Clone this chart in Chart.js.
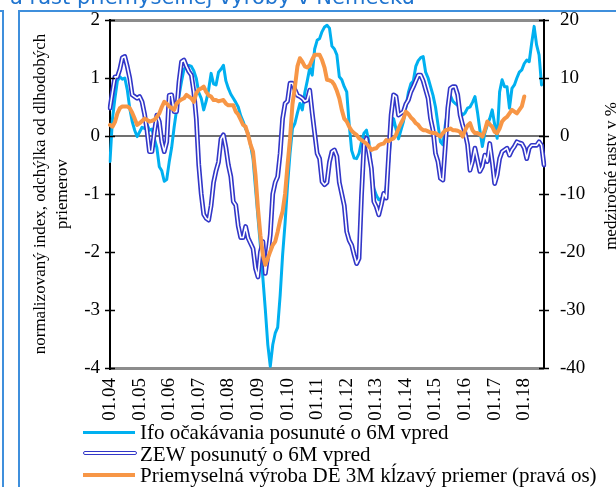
<!DOCTYPE html>
<html>
<head>
<meta charset="utf-8">
<script src="https://cdn.jsdelivr.net/npm/chart.js@4/dist/chart.umd.min.js"></script>
<style>
  html, body { margin: 0; padding: 0; background: #fff; }
  #wrap { position: relative; width: 616px; height: 487px; overflow: hidden; background: #fff; }
  #chart { position: absolute; left: 0; top: 0; }
  .ttl { position: absolute; left: 10px; top: -13px; font-family: "DejaVu Sans"; font-size: 21px; line-height: 21px; color: #1f74cf; white-space: nowrap; }
  .frame { position: absolute; background: #3f8fdc; }
  .leg { position: absolute; left: 83px; height: 22px; font-family: "Liberation Serif"; font-size: 21px; line-height: 22px; white-space: nowrap; color: #000; }
  .leg span { position: absolute; left: 57px; top: 0; }
  .mk { position: absolute; left: 0; width: 52px; }
</style>
</head>
<body>
<div id="wrap">
  <canvas id="chart" width="616" height="487"></canvas>
  <div class="ttl">a rast priemyselnej výroby v Nemecku</div>
  <div class="frame" style="left:2px; top:10px; width:2px; height:477px;"></div>
  <div class="frame" style="left:0; top:10px; width:3px; height:2px;"></div>
  <div class="frame" style="left:18px; top:10px; width:2px; height:477px;"></div>
  <div class="frame" style="left:18px; top:10px; width:598px; height:2px;"></div>
  <div class="leg" style="top:421px;"><div class="mk" style="top:10px; height:3px; background:#00b0f0;"></div><span>Ifo očakávania posunuté o 6M vpred</span></div>
  <div class="leg" style="top:443px;"><div class="mk" style="top:8px; height:2px; border:1.3px solid #3236c8; border-radius:2px; background:#fff;"></div><span>ZEW posunutý o 6M vpred</span></div>
  <div class="leg" style="top:464px;"><div class="mk" style="top:9px; height:4px; background:#f79646;"></div><span>Priemyselná výroba DE 3M kĺzavý priemer (pravá os)</span></div>
</div>
<script>
// mesiace 01.04 .. 09.18
const firstYear = 2004;
const monthCount = 177;

// Ifo ocakavania posunute o 6M (lava os)
const ifo = [
  -0.44, 0.3, 0.65, 0.95, 1.02, 0.98, 1.0, 0.8, 0.48, 0.25, 0.1, -0.01,
  0.07, 0.15, 0.13, 0.2, 0.1, 0.12, -0.05, -0.2, -0.53, -0.6, -0.78, -0.75,
  -0.45, -0.2, 0.15, 0.45, 0.7, 0.94, 1.15, 1.2, 1.22, 1.2, 1.12, 0.99,
  0.75, 0.65, 0.45, 0.6, 0.8, 1.08, 0.9, 0.88, 1.1, 1.15, 1.22, 0.95,
  0.82, 0.72, 0.65, 0.58, 0.5, 0.35, 0.25, 0.12, 0.05, -0.16, -0.39, -0.9,
  -1.4, -1.9, -2.45, -3.0, -3.6, -3.97, -3.6, -3.4, -3.3, -2.75, -2.05, -1.5,
  -0.85, -0.3, 0.13, 0.22, 0.4, 0.56, 0.45, 0.75, 0.95, 1.17, 1.05, 1.5,
  1.65, 1.68, 1.8, 1.88, 1.91, 1.86, 1.55, 1.5, 1.4, 1.02, 0.97, 0.85,
  0.76, 0.2, -0.25, -0.38, -0.39, -0.3, -0.1, 0.05, 0.1, -0.1, -0.6, -0.9,
  -1.02, -1.1, -1.08, -1.05, -0.9, -0.45, 0.1, 0.3, 0.12, -0.05, 0.1, 0.25,
  0.5, 0.75, 0.9, 0.95, 1.2, 1.3, 1.35, 1.37, 1.1, 1.0, 0.85, 0.7,
  0.5, 0.2, -0.1, -0.15, 0.2, 0.45, 0.7, 0.6, 0.56, 0.53, 0.42, 0.36,
  0.4, 0.48, 0.5, 0.58, 0.68, 0.42, 0.1, -0.18, 0.05, 0.19, 0.3, 0.45,
  0.2, -0.04, 0.76, 0.97, 0.85, 0.85, 0.48, 0.82, 0.88, 1.0, 1.1, 1.14,
  1.25, 1.31, 1.28, 1.6, 1.89, 1.57, 1.4, 0.88
];

// ZEW posunuty o 6M (lava os)
const zew = [
  0.48, 0.76, 1.02, 1.02, 1.15, 1.35, 1.37, 1.2, 1.0, 0.71, 0.68, 0.65,
  0.68, 0.59, 0.38, 0.1, -0.27, -0.27, 0.07, 0.36, 0.25, -0.1, -0.27, -0.1,
  0.7, 0.71, 0.42, 0.42, 0.94, 1.28, 1.31, 1.2, 1.11, 1.05, 0.76, 0.3,
  -0.5, -1.0, -1.35, -1.42, -1.45, -1.2, -0.8, -0.6, -0.45, -0.05, 0.02, -0.2,
  -0.5, -0.7, -1.13, -1.19, -1.55, -1.75, -1.75, -1.56, -1.76, -1.85, -1.94, -2.28,
  -2.43, -2.0, -1.82, -2.37, -2.05, -1.7, -1.0, -0.8, -0.7, -0.3, 0.3, 0.56,
  0.6, 0.91, 0.91, 0.8, 0.7, 0.68, 0.65, 0.6, 0.62, 0.79, 0.4, 0.05,
  -0.3, -0.39, -0.79, -0.84, -0.8, -0.45, -0.27, -0.24, -0.35, -0.8, -1.0, -1.2,
  -1.65, -1.8, -1.88, -2.05, -2.2, -2.11, -1.02, -0.15, -0.04, -0.3, -0.56, -1.13,
  -1.22, -1.36, -1.19, -0.99, -1.07, -0.33, 0.36, 0.71, 0.68, 0.36, 0.39, 0.42,
  0.55, 0.62, 0.76, 0.85, 0.95, 1.05, 1.05, 0.95, 0.8, 0.65, 0.3, 0.1,
  -0.3, -0.44, -0.73, -0.76, -0.16, 0.48, 0.82, 0.85, 0.85, 0.71, 0.36, 0.19,
  0.05, -0.15, -0.59, -0.44, -0.21, -0.41, -0.61, -0.53, -0.33, -0.44, -0.13, -0.44,
  -0.82, -0.67, -0.39, -0.27, -0.24, -0.21, -0.33, -0.24, -0.18, -0.1, -0.12, -0.13,
  -0.21, -0.39, -0.21, -0.16, -0.16, -0.16, -0.1, -0.16, -0.5
];

// Priemyselna vyroba DE, 3M klzavy priemer, medzirocne v % (prava os)
const vyroba = [
  1.9, 1.6, 2.4, 3.9, 4.8, 5.1, 5.1, 5.1, 4.8, 4.0, 3.0, 1.9,
  2.2, 2.6, 3.0, 2.8, 2.5, 2.6, 2.8, 3.3, 3.9, 5.0, 5.9, 5.6,
  5.1, 4.8, 4.5, 5.6, 6.0, 6.3, 6.5, 7.1, 6.8, 6.5, 5.9, 7.4,
  8.0, 8.2, 8.5, 7.6, 7.0, 6.8, 6.2, 6.2, 6.0, 6.1, 6.2, 5.6,
  5.3, 5.3, 5.3, 4.2, 3.7, 2.8, 1.9, 1.6, 0.2, -1.5, -2.7, -6.7,
  -12.5, -17.1, -20.5, -22.2, -21.1, -19.9, -18.8, -18.2, -16.5, -14.5, -13.0, -10.0,
  -5.0, -0.5, 5.5, 8.5, 12.0, 13.4, 12.8, 12.0, 11.8, 12.2, 13.2, 14.0,
  14.0, 14.0, 13.1, 11.8, 9.7, 9.6, 9.4, 8.8, 7.8, 6.5, 4.5, 3.0,
  2.5, 1.6, 0.9, 0.5, 0.2, -0.4, -0.7, -1.0, -1.3, -1.8, -2.4, -2.2,
  -2.1, -1.6, -1.4, -1.3, -0.7, -0.9, -0.6, -0.4, 0.2, 1.3, 2.2, 3.0,
  4.2, 3.8, 3.2, 2.8, 2.2, 1.9, 1.3, 1.0, 1.0, 0.8, 0.6, 0.5,
  0.5, 0.2, -0.1, 0.5, 1.0, 1.1, 1.3, 1.0, 1.0, 0.9, 0.7, -0.1,
  1.0, 1.8, 2.2, 1.0, 0.5, 0.5, 0.3, -0.1, 1.0, 2.5, 2.0, 1.6,
  0.7, 0.5, 1.3, 2.5, 3.0, 3.3, 3.9, 4.5, 4.2, 3.9, 4.5, 5.1,
  6.8
];

const leftTitle = ['normalizovaný index, odchýlka od dlhodobých', 'priemerov'];
const rightTitle = 'medziročné rasty v %';

const months = [];
for (let i = 0; i < monthCount; i++) {
  const mm = String(i % 12 + 1).padStart(2, '0');
  const yy = String((firstYear + Math.floor(i / 12)) % 100).padStart(2, '0');
  months.push(mm + '.' + yy);
}

const tickFont = { family: 'Liberation Serif', size: 19 };
const frameGray = '#8c8c8c';
const none = 'rgba(0,0,0,0)';

// kratke ciarky cez obe osi
const crossTicks = {
  id: 'crossTicks',
  afterDraw(chart) {
    const ctx = chart.ctx;
    const area = chart.chartArea;
    ctx.save();
    ctx.strokeStyle = '#000';
    ctx.lineWidth = 1.5;
    [['y', area.left], ['y2', area.right]].forEach(([id, x]) => {
      const sc = chart.scales[id];
      sc.ticks.forEach(t => {
        const py = Math.round(sc.getPixelForValue(t.value)) + 0.5;
        ctx.beginPath();
        ctx.moveTo(x - 5, py);
        ctx.lineTo(x + 5, py);
        ctx.stroke();
      });
    });
    ctx.restore();
  }
};

const rightAxisTitle = {
  id: 'rightAxisTitle',
  afterDraw(chart) {
    const ctx = chart.ctx;
    ctx.save();
    ctx.translate(612, 176);
    ctx.rotate(-Math.PI / 2);
    ctx.font = '17px "Liberation Serif"';
    ctx.fillStyle = '#000';
    ctx.textAlign = 'center';
    ctx.textBaseline = 'middle';
    ctx.fillText(rightTitle, 0, 0);
    ctx.restore();
  }
};

Chart.defaults.font.family = 'Liberation Serif';

new Chart(document.getElementById('chart').getContext('2d'), {
  type: 'line',
  data: {
    labels: months,
    datasets: [
      { label: 'Priemyselná výroba DE 3M kĺzavý priemer (pravá os)', data: vyroba, yAxisID: 'y2',
        borderColor: '#f79646', borderWidth: 4 },
      { label: 'ZEW vnútro', data: zew, yAxisID: 'y', borderColor: '#ffffff', borderWidth: 1.6 },
      { label: 'ZEW posunutý o 6M vpred', data: zew, yAxisID: 'y', borderColor: '#3236c8', borderWidth: 4.8 },
      { label: 'Ifo očakávania posunuté o 6M vpred', data: ifo, yAxisID: 'y',
        borderColor: '#00b0f0', borderWidth: 3 }
    ]
  },
  options: {
    responsive: false,
    animation: false,
    layout: { padding: { left: 20, top: 20, right: 0, bottom: 0 } },
    elements: {
      point: { radius: 0 },
      line: { tension: 0, borderJoinStyle: 'round', borderCapStyle: 'round', fill: false }
    },
    plugins: { legend: { display: false }, tooltip: { enabled: false } },
    scales: {
      x: {
        grid: { display: false, drawTicks: false },
        border: { display: false },
        ticks: {
          autoSkip: false, minRotation: 90, maxRotation: 90, padding: 10,
          font: tickFont, color: '#000',
          callback: function (value) {
            const l = this.getLabelForValue(value);
            return l.startsWith('01.') ? l : '';
          }
        },
        afterFit: s => { s.height = 119; }
      },
      y: {
        position: 'left', min: -4, max: 2,
        ticks: { stepSize: 1, padding: 0, font: tickFont, color: '#000' },
        grid: {
          drawTicks: true, tickLength: 10, tickColor: none,
          color: c => ([2, 0, -4].includes(c.tick.value) ? (c.tick.value === 0 ? '#707070' : frameGray) : none),
          lineWidth: c => (c.tick.value === 0 ? 2 : 3)
        },
        border: { color: '#000', width: 2 },
        title: {
          display: true, text: leftTitle, color: '#000',
          font: { family: 'Liberation Serif', size: 17, lineHeight: 1.3 },
          padding: { top: 9, bottom: 0 }
        },
        afterFit: s => { s.width = 90; }
      },
      y2: {
        position: 'right', min: -40, max: 20,
        ticks: { stepSize: 10, padding: 0, font: tickFont, color: '#000' },
        grid: { drawTicks: true, tickLength: 16, tickColor: none, drawOnChartArea: false, color: none },
        border: { color: '#000', width: 2 },
        afterFit: s => { s.width = 72; }
      }
    }
  },
  plugins: [crossTicks, rightAxisTitle]
});
</script>
</body>
</html>
